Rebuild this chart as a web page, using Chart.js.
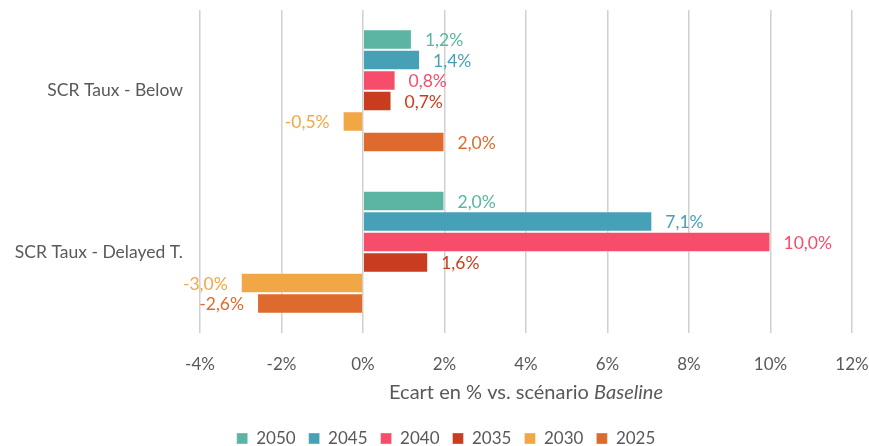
<!DOCTYPE html>
<html>
<head>
<meta charset="utf-8">
<script src="https://cdn.jsdelivr.net/npm/chart.js@4/dist/chart.umd.min.js"></script>
<style>
  html, body { margin: 0; padding: 0; background: #fff; }
  #wrap { width: 869px; height: 446px; }
</style>
</head>
<body>
<div id="wrap"><canvas id="chart"></canvas></div>
<script>
const categories = ['SCR Taux - Below', 'SCR Taux - Delayed T.'];
const years = ['2050', '2045', '2040', '2035', '2030', '2025'];
const colors = ['#5bb5a2', '#47a1b6', '#f64d6a', '#c93c20', '#f2a746', '#de6a2e'];

// ecart en % par horizon, [Below, Delayed T.]
const v2050 = [1.2, 2.0];
const v2045 = [1.4, 7.1];
const v2040 = [0.8, 10.0];
const v2035 = [0.7, 1.6];
const v2030 = [-0.5, -3.0];
const v2025 = [2.0, -2.6];
const series = [v2050, v2045, v2040, v2035, v2030, v2025];

const xMin = -4, xMax = 12, xStep = 2;

const FONT = 'Lato, "Open Sans", sans-serif';
const GREY = '#595959';

const fmt = v => v.toFixed(1).replace('.', ',') + '%';

// value labels at the end of each bar
const barLabels = {
  id: 'barLabels',
  afterDatasetsDraw(chart) {
    const ctx = chart.ctx;
    ctx.save();
    ctx.font = '17.5px ' + FONT;
    ctx.textBaseline = 'middle';
    chart.data.datasets.forEach((ds, i) => {
      const meta = chart.getDatasetMeta(i);
      meta.data.forEach((bar, j) => {
        const v = ds.data[j];
        ctx.fillStyle = ds.backgroundColor;
        if (v >= 0) {
          ctx.textAlign = 'left';
          ctx.fillText(fmt(v), bar.x + 13, bar.y + 1);
        } else {
          ctx.textAlign = 'right';
          ctx.fillText(fmt(v), bar.x - 13, bar.y + 1);
        }
      });
    });
    ctx.restore();
  }
};

// axis title with "Baseline" in italics
const axisTitle = {
  id: 'axisTitle',
  afterDraw(chart) {
    const ctx = chart.ctx;
    const area = chart.chartArea;
    const a = 'Ecart en % vs. scénario ';
    const b = 'Baseline';
    ctx.save();
    ctx.fillStyle = GREY;
    ctx.textBaseline = 'middle';
    ctx.textAlign = 'left';
    ctx.font = '20px ' + FONT;
    const wa = ctx.measureText(a).width;
    ctx.font = 'italic 20px ' + FONT;
    const wb = ctx.measureText(b).width;
    const x0 = (area.left + area.right) / 2 - (wa + wb) / 2;
    const y = area.bottom + 60;
    ctx.font = '20px ' + FONT;
    ctx.fillText(a, x0, y);
    ctx.font = 'italic 20px ' + FONT;
    ctx.fillText(b, x0 + wa, y);
    ctx.restore();
  }
};

// nudge the legend a little to the right
const legendShift = {
  id: 'legendShift',
  afterLayout(chart) {
    if (chart.legend) {
      chart.legend.left += 13;
      chart.legend.right += 13;
    }
  }
};

new Chart(document.getElementById('chart'), {
  type: 'bar',
  data: {
    labels: categories,
    datasets: years.map((y, i) => ({
      label: y,
      data: series[i],
      backgroundColor: colors[i],
      borderColor: 'rgba(255,255,255,0.35)',
      borderWidth: 1,
      barPercentage: 1,
      categoryPercentage: 0.762
    }))
  },
  options: {
    indexAxis: 'y',
    responsive: true,
    maintainAspectRatio: false,
    animation: false,
    layout: { padding: { top: 10, right: 3, bottom: -11, left: 0 } },
    scales: {
      x: {
        min: xMin,
        max: xMax,
        ticks: {
          stepSize: xStep,
          color: GREY,
          font: { family: FONT, size: 17 },
          padding: 21,
          callback: v => v + '%'
        },
        grid: { color: '#d0d0d0', lineWidth: 1.5, drawTicks: false },
        border: { display: false },
        title: { display: true, text: ' ', font: { size: 18 }, padding: 0 },
        afterFit: s => {
          s.paddingRight = 17;
        }
      },
      y: {
        ticks: { color: GREY, font: { family: FONT, size: 17.5 }, padding: 17 },
        grid: { display: false, drawTicks: false },
        border: { display: false },
        afterFit: s => {
          s.width = 200;
          s.paddingTop = 0;
          s.paddingBottom = 0;
        }
      }
    },
    plugins: {
      legend: {
        position: 'bottom',
        labels: {
          color: GREY,
          font: { family: FONT, size: 17 },
          boxWidth: 11,
          boxHeight: 11,
          padding: 13
        }
      },
      tooltip: { enabled: false }
    }
  },
  plugins: [barLabels, axisTitle, legendShift]
});
</script>
</body>
</html>
